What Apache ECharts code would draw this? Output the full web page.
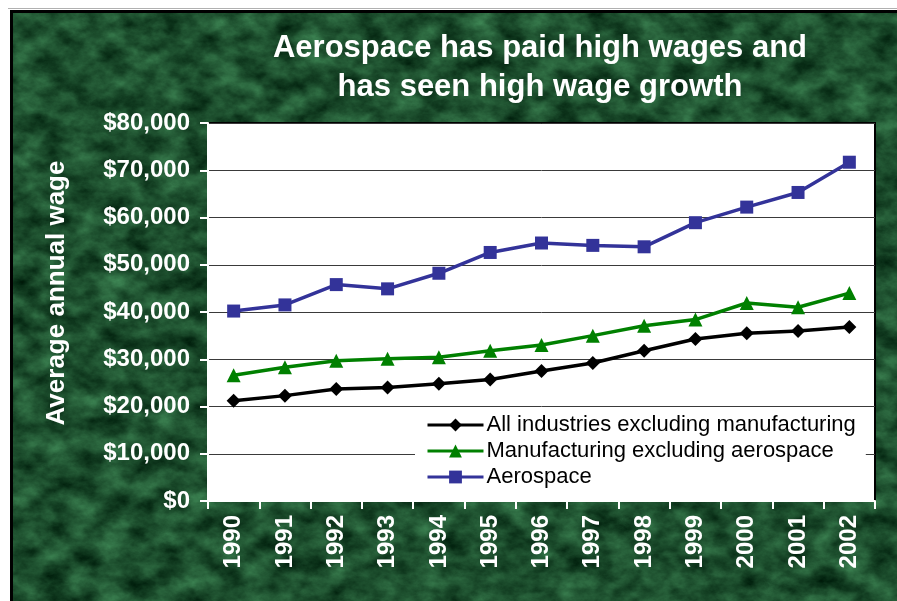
<!DOCTYPE html>
<html>
<head>
<meta charset="utf-8">
<script src="https://cdn.jsdelivr.net/npm/echarts@6/dist/echarts.min.js"></script>
<style>
  html, body { margin: 0; padding: 0; background: #ffffff; }
  #page { position: relative; width: 897px; height: 601px; overflow: hidden; }
  #rule { position: absolute; left: 8px; top: 8px; width: 889px; height: 1px; background: #b0b0b0; }
  #marble {
    position: absolute; left: 10px; top: 10px; width: 887px; height: 591px;
    box-sizing: border-box; border-left: 3px solid #000; border-top: 3px solid #000;
    background-color: #1d4f2e;
    background-image: url("data:image/svg+xml;utf8,<svg xmlns='http://www.w3.org/2000/svg' width='900' height='600'><filter id='m' x='0' y='0' width='100%25' height='100%25' color-interpolation-filters='sRGB'><feTurbulence type='fractalNoise' baseFrequency='0.035 0.05' numOctaves='5' seed='7'/><feColorMatrix type='matrix' values='0.3 0 0 0 -0.036  0.5 0 0 0 0.06  0.35 0 0 0 0.005  0 0 0 0 1'/></filter><rect width='900' height='600' filter='url(%23m)'/></svg>");
  }
  #chart { position: absolute; left: 0; top: 0; width: 897px; height: 601px; }
</style>
</head>
<body>
<div id="page">
  <div id="rule"></div>
  <div id="marble"></div>
  <div id="chart"></div>
</div>
<script>
// Average annual wage by year, 1990-2002
const years = ['1990', '1991', '1992', '1993', '1994', '1995', '1996',
               '1997', '1998', '1999', '2000', '2001', '2002'];
const allIndustriesExMfg = [21200, 22300, 23700, 24000, 24800, 25700, 27500,
                            29200, 31800, 34300, 35500, 36000, 36800];
const mfgExAerospace = [26600, 28300, 29700, 30100, 30400, 31800, 33000,
                        35000, 37100, 38400, 41900, 41000, 44000];
const aerospace = [40200, 41500, 45800, 44900, 48200, 52600, 54600,
                   54100, 53800, 58900, 62200, 65300, 71700];

const seriesNames = ['All industries excluding manufacturing',
                     'Manufacturing excluding aerospace',
                     'Aerospace'];
const titleLines = ['Aerospace has paid high wages and', 'has seen high wage growth'];
const yAxisTitle = 'Average annual wage';

const FONT = "'Liberation Sans', Arial, sans-serif";

const chart = echarts.init(document.getElementById('chart'), null, { renderer: 'canvas' });

function money(v) {
  return '$' + Math.round(v).toString().replace(/\B(?=(\d{3})+(?!\d))/g, ',');
}

const option = {
  backgroundColor: 'transparent',
  animation: false,
  title: {
    text: titleLines.join('\n'),
    left: 535,
    top: 24,
    textAlign: 'center',
    textStyle: {
      color: '#ffffff', fontFamily: FONT, fontWeight: 'bold',
      fontSize: 31, lineHeight: 39
    }
  },
  graphic: [{
    type: 'text',
    x: 57, y: 293,
    rotation: Math.PI / 2,
    style: {
      text: yAxisTitle,
      fill: '#ffffff',
      font: 'bold 26px ' + FONT,
      textAlign: 'center',
      textVerticalAlign: 'middle'
    }
  }],
  grid: {
    left: 208, top: 123, right: 22, bottom: 100,
    show: true, backgroundColor: '#ffffff',
    borderColor: '#000000', borderWidth: 2
  },
  legend: {
    orient: 'vertical',
    left: 415, top: 412,
    padding: [2, 10, 3, 11],
    backgroundColor: '#ffffff',
    itemWidth: 56, itemHeight: 16, itemGap: 4,
    lineStyle: { width: 3 },
    textStyle: { color: '#000000', fontFamily: FONT, fontSize: 22, padding: [0, 0, 0, -2] },
    data: seriesNames
  },
  xAxis: {
    type: 'category',
    data: years,
    boundaryGap: true,
    axisLine: { show: true, lineStyle: { color: '#ffffff', width: 2 } },
    axisTick: { show: true, length: 8, lineStyle: { color: '#ffffff', width: 2 } },
    axisLabel: {
      rotate: 90, margin: 14, interval: 0,
      color: '#ffffff', fontFamily: FONT, fontWeight: 'bold', fontSize: 24
    }
  },
  yAxis: {
    type: 'value',
    min: 0, max: 80000, interval: 10000,
    axisLine: { show: true, lineStyle: { color: '#ffffff', width: 2 } },
    axisTick: { show: true, length: 8, lineStyle: { color: '#ffffff', width: 2 } },
    splitLine: { show: true, lineStyle: { color: '#3a3a3a', width: 1 } },
    axisLabel: {
      margin: 18,
      color: '#ffffff', fontFamily: FONT, fontWeight: 'bold', fontSize: 24,
      formatter: money
    }
  },
  series: [
    {
      name: seriesNames[0], type: 'line', data: allIndustriesExMfg,
      symbol: 'diamond', symbolSize: 14,
      lineStyle: { color: '#000000', width: 3.5 },
      itemStyle: { color: '#000000' }
    },
    {
      name: seriesNames[1], type: 'line', data: mfgExAerospace,
      symbol: 'triangle', symbolSize: 14,
      lineStyle: { color: '#008000', width: 3.5 },
      itemStyle: { color: '#008000' }
    },
    {
      name: seriesNames[2], type: 'line', data: aerospace,
      symbol: 'rect', symbolSize: 13,
      lineStyle: { color: '#333399', width: 3.5 },
      itemStyle: { color: '#333399' }
    }
  ]
};

chart.setOption(option);
</script>
</body>
</html>
